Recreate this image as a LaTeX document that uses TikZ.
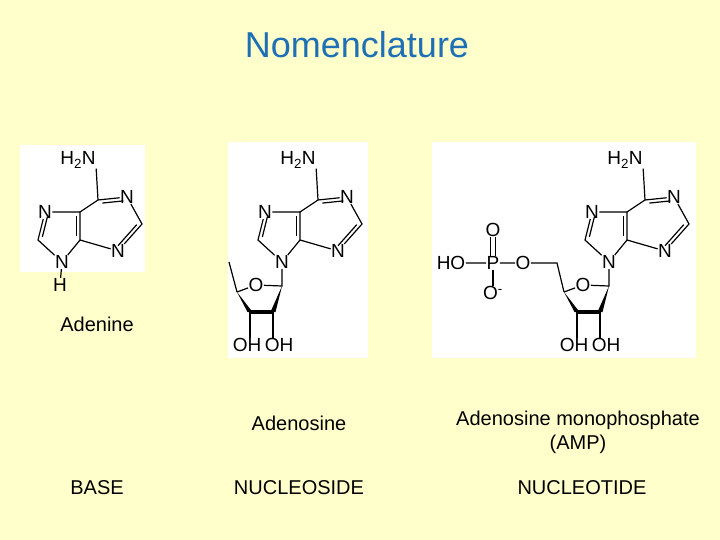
\documentclass[tikz,border=0pt]{standalone}
\usepackage{fontspec}
\setmainfont{Liberation Sans}
\usetikzlibrary{calc}
\definecolor{bg}{HTML}{FFFFCC}
\definecolor{ttl}{HTML}{1F6FB5}
\tikzset{
  atom/.style={inner sep=0.3pt,font=\fontsize{19}{19}\selectfont},
  bond/.style={line width=1.2pt},
  lbl/.style={font=\fontsize{20}{24}\selectfont,align=center},
  wbox/.style={fill=white,draw=none}
}
\newcommand\dbl[3]{\draw[bond,shorten <=4pt,shorten >=4pt] ($(#1)!3.5pt!#3:(#2)$) -- ($(#2)!3.5pt!-#3:(#1)$);}
\newcommand\purine{%
  \node[atom] (h2n) at (298,160) {H\textsubscript{2}N};
  \coordinate (c6) at (318,200);
  \node[atom] (n1) at (347,197) {N};
  \coordinate (c2) at (362,224);
  \node[atom] (n3) at (338,251) {N};
  \coordinate (c4) at (300,240);
  \coordinate (c5) at (300,212);
  \node[atom] (n7) at (265,212) {N};
  \coordinate (c8) at (258,240);
  \node[atom] (n9) at (282,262) {N};
  \draw[bond] (h2n.south east) -- (c6) -- (n1) -- (c2) -- (n3) -- (c4) -- (c5) -- (c6);
  \draw[bond] (c5) -- (n7) -- (c8) -- (n9) -- (c4);
  \dbl{c6}{n1}{-90}
  \dbl{c2}{n3}{-90}
  \dbl{c4}{c5}{90}
  \dbl{n7}{c8}{90}
}
\newcommand\sugar{%
  \coordinate (c1) at (282,286);
  \node[atom] (o4) at (256,285) {O};
  \coordinate (c4s) at (237,292);
  \coordinate (c3s) at (250,312);
  \coordinate (c2s) at (273,312);
  \node[atom] (oh3) at (247,345) {OH};
  \node[atom] (oh2) at (279,345) {OH};
  \draw[bond] (n9) -- (c1) -- (o4) -- (c4s);
  \fill (c4s) -- ($(c3s)+(-2.5,0)$) -- ($(c3s)+(2.5,0)$) -- cycle;
  \draw[line width=4pt] (c3s) -- (c2s);
  \fill (c1) -- ($(c2s)+(-2.5,0)$) -- ($(c2s)+(2.5,0)$) -- cycle;
  \draw[bond] (c3s) -- (oh3.north -| c3s);
  \draw[bond] (c2s) -- (oh2.north -| c2s);
}
\begin{document}
\begin{tikzpicture}[x=1pt,y=-1pt]
\fill[bg] (0,0) rectangle (720,540);
\useasboundingbox (0,0) rectangle (720,540);
\node[font=\fontsize{36}{36}\selectfont,text=ttl] (title) at (357,45) {Nomenclature};
\fill[wbox] (20,145) rectangle (145,272);
\fill[wbox] (228,142) rectangle (368,358);
\fill[wbox] (432,142) rectangle (696,358);
% adenine
\begin{scope}[xshift=-220pt,name prefix=a-]
  \purine
  \node[atom] (h) at (280,285) {H};
  \draw[bond] (n9) -- (h);
\end{scope}
% adenosine
\begin{scope}[name prefix=b-]
  \purine
  \sugar
  \coordinate (c5s) at (229,262);
  \draw[bond] (c4s) -- (c5s);
\end{scope}
% AMP
\begin{scope}[xshift=327pt,name prefix=c-]
  \purine
  \sugar
  \coordinate (c5s) at (230,263);
  \node[atom] (o5) at (196,263) {O};
  \node[atom] (p) at (166,263) {P};
  \node[atom] (ho) at (124,263) {HO};
  \node[atom] (ot) at (166,230) {O};
  \node[atom] (om) at (166,293) {O\textsuperscript{-}};
  \draw[bond] (c4s) -- (c5s) -- (o5) -- (p) -- (ho);
  \draw[bond] (p) -- (om.north -| p);
  \draw[bond] ($(p.north)+(-2.5,0)$) -- ($(ot.south)+(-2.5,0)$);
  \draw[bond] ($(p.north)+(2.5,0)$) -- ($(ot.south)+(2.5,0)$);
\end{scope}
\node[lbl] (l1) at (97,324) {Adenine};
\node[lbl] (l2) at (299,423) {Adenosine};
\node[lbl] (l3) at (578,432) {Adenosine monophosphate\\(AMP)};
\node[lbl] (l4) at (97,488) {BASE};
\node[lbl] (l5) at (299,488) {NUCLEOSIDE};
\node[lbl] (l6) at (582,488) {NUCLEOTIDE};
\end{tikzpicture}
\end{document}
